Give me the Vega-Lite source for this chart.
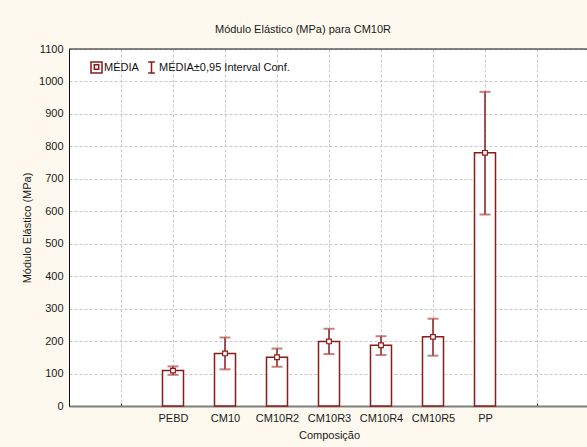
{
  "$schema": "https://vega.github.io/schema/vega-lite/v6.json",
  "autosize": {"type": "none"},
  "width": 518,
  "height": 357,
  "padding": {"left": 69, "top": 49, "right": 0, "bottom": 41},
  "background": "#fdf9ef",
  "title": {
    "text": "Módulo Elástico (MPa) para CM10R",
    "anchor": "middle",
    "frame": "group",
    "dx": -25,
    "dy": 16,
    "offset": 15,
    "baseline": "alphabetic",
    "fontSize": 11,
    "fontWeight": "normal",
    "font": "Liberation Sans",
    "color": "#1a1a1a"
  },
  "config": {
    "view": {"fill": "white", "stroke": null},
    "font": "Liberation Sans",
    "axis": {
      "labelFont": "Liberation Sans",
      "labelFontSize": 11,
      "labelColor": "#1a1a1a",
      "titleFont": "Liberation Sans",
      "titleFontSize": 11,
      "titleFontWeight": "normal",
      "titleColor": "#1a1a1a",
      "gridColor": "#c8c8c8",
      "gridDash": [3, 2],
      "gridWidth": 1
    },
    "axisY": {
      "title": "Módulo Elástico (MPa)",
      "values": [0, 100, 200, 300, 400, 500, 600, 700, 800, 900, 1000, 1100],
      "format": "d",
      "ticks": false,
      "labelPadding": 6,
      "titlePadding": 6,
      "domainColor": "#111111",
      "domainWidth": 1,
      "grid": true
    }
  },
  "resolve": {"axis": {"x": "independent"}},
  "data": {
    "values": [
      {"comp": "PEBD", "media": 109, "lo": 96, "hi": 122},
      {"comp": "CM10", "media": 162, "lo": 113, "hi": 211},
      {"comp": "CM10R2", "media": 150, "lo": 121, "hi": 177},
      {"comp": "CM10R3", "media": 199, "lo": 160, "hi": 238},
      {"comp": "CM10R4", "media": 187, "lo": 157, "hi": 215},
      {"comp": "CM10R5", "media": 213, "lo": 155, "hi": 269},
      {"comp": "PP", "media": 780, "lo": 590, "hi": 968}
    ]
  },
  "layer": [
    {
      "mark": {"type": "bar", "width": 21, "fill": "white", "stroke": "#8b1a1a", "strokeWidth": 1.5},
      "encoding": {
        "x": {
          "field": "comp",
          "type": "nominal",
          "sort": null,
          "scale": {
            "type": "point",
            "domain": [" ", "  ", "PEBD", "CM10", "CM10R2", "CM10R3", "CM10R4", "CM10R5", "PP", "   ", "    "],
            "range": [0, 520],
            "padding": 0
          },
          "axis": {
            "orient": "bottom",
            "title": "Composição",
            "titlePadding": 6,
            "labelAngle": 0,
            "labelPadding": 9,
            "tickSize": -3,
            "tickColor": "#333333",
            "domainColor": "#7f7f7f",
            "domainWidth": 2,
            "grid": true
          }
        },
        "y": {
          "field": "media",
          "type": "quantitative",
          "scale": {"domain": [0, 1100], "nice": false},
          "axis": {"title": "Módulo Elástico (MPa)"}
        }
      }
    },
    {
      "data": {"values": [{"topo": 1100}]},
      "mark": {"type": "rule", "color": "#111111", "strokeWidth": 1},
      "encoding": {
        "y": {"field": "topo", "type": "quantitative", "axis": {"title": "Módulo Elástico (MPa)"}}
      }
    },
    {
      "mark": {"type": "rule", "color": "#8b1a1a", "strokeWidth": 1.5},
      "encoding": {
        "x": {"field": "comp", "type": "nominal", "sort": null, "axis": null},
        "y": {"field": "lo", "type": "quantitative", "axis": {"title": "Módulo Elástico (MPa)"}},
        "y2": {"field": "hi"}
      }
    },
    {
      "mark": {"type": "tick", "color": "#b04848", "size": 11, "thickness": 2},
      "encoding": {
        "x": {"field": "comp", "type": "nominal", "sort": null, "axis": null},
        "y": {"field": "lo", "type": "quantitative", "axis": {"title": "Módulo Elástico (MPa)"}}
      }
    },
    {
      "mark": {"type": "tick", "color": "#b04848", "size": 11, "thickness": 2},
      "encoding": {
        "x": {"field": "comp", "type": "nominal", "sort": null, "axis": null},
        "y": {"field": "hi", "type": "quantitative", "axis": {"title": "Módulo Elástico (MPa)"}}
      }
    },
    {
      "mark": {"type": "point", "shape": "square", "size": 22, "filled": true, "fill": "white", "stroke": "#8b1a1a", "strokeWidth": 1.2, "opacity": 1},
      "encoding": {
        "x": {"field": "comp", "type": "nominal", "sort": null, "axis": null},
        "y": {"field": "media", "type": "quantitative", "axis": {"title": "Módulo Elástico (MPa)"}}
      }
    },
    {
      "mark": {"type": "point", "opacity": 0, "filled": false, "color": "#8b1a1a", "strokeWidth": 1.5},
      "encoding": {
        "x": {"field": "comp", "type": "nominal", "sort": null, "axis": null},
        "y": {"field": "media", "type": "quantitative", "axis": {"title": "Módulo Elástico (MPa)"}},
        "shape": {
          "datum": "MÉDIA",
          "scale": {
            "domain": ["MÉDIA", "MÉDIA±0,95 Interval Conf."],
            "range": ["M-1,-1H1V1H-1ZM-0.4,-0.5H0.4V0.3H-0.4Z", "M-0.6,-1H0.6M0,-1V1M-0.6,1H0.6"]
          },
          "legend": {
            "orient": "none",
            "legendX": 21,
            "legendY": 12,
            "direction": "horizontal",
            "title": null,
            "padding": 0,
            "labelFont": "Liberation Sans",
            "labelFontSize": 11,
            "labelColor": "#111111",
            "labelOffset": 1,
            "columnPadding": 6,
            "symbolSize": 121,
            "symbolStrokeWidth": 1.5,
            "symbolStrokeColor": "#8b1a1a",
            "symbolFillColor": "transparent"
          }
        }
      }
    }
  ]
}
